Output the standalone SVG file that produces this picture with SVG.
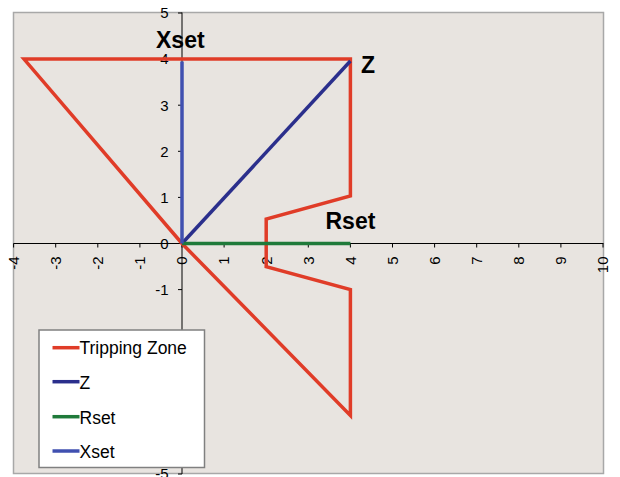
<svg xmlns="http://www.w3.org/2000/svg" width="620" height="477" viewBox="0 0 620 477">
<style>
text{font-family:"Liberation Sans",Arial,sans-serif;fill:#000}
.ax{stroke:#000;stroke-width:1;fill:none}
.tl{font-size:15px}
.big{font-size:23px;font-weight:bold}
.lg{font-size:17.5px}
.red{stroke:#E03C28;stroke-width:3.5;fill:none;stroke-linejoin:miter}
.z{stroke:#2B2F8C;stroke-width:3.5;fill:none}
.r{stroke:#1F7A3A;stroke-width:3.5;fill:none}
.x{stroke:#4050B0;stroke-width:3.5;fill:none}
</style>
<rect x="0" y="0" width="620" height="477" fill="#fff"/>
<g id="plot-area">
<rect x="13.5" y="12.5" width="590" height="461" fill="#E8E4E0" stroke="#A8A8A8" stroke-width="1.5"/>
</g>
<g id="axes">
<line class="ax" x1="13.5" y1="243.5" x2="603.5" y2="243.5"/>
<line class="ax" x1="182" y1="12.5" x2="182" y2="474"/>
<path class="ax" d="M13.6 243.5v4M55.7 243.5v4M97.8 243.5v4M139.9 243.5v4M182 243.5v4M224.1 243.5v4M266.2 243.5v4M308.3 243.5v4M350.4 243.5v4M392.5 243.5v4M434.6 243.5v4M476.7 243.5v4M518.8 243.5v4M560.9 243.5v4M603 243.5v4"/>
<path class="ax" d="M178 13h4M178 59.1h4M178 105.2h4M178 151.3h4M178 197.4h4M178 243.5h4M178 289.6h4M178 474h4"/>
<g class="tl" text-anchor="end">
<text x="168.5" y="18.3">5</text>
<text x="168.5" y="64.4">4</text>
<text x="168.5" y="110.5">3</text>
<text x="168.5" y="156.6">2</text>
<text x="168.5" y="202.7">1</text>
<text x="168.5" y="248.8">0</text>
<text x="168.5" y="294.9">-1</text>
<text x="168.5" y="479.3">-5</text>
</g>
<g class="tl" text-anchor="end">
<text transform="translate(18.9,256.5) rotate(-90)">-4</text>
<text transform="translate(61,256.5) rotate(-90)">-3</text>
<text transform="translate(103.1,256.5) rotate(-90)">-2</text>
<text transform="translate(145.2,256.5) rotate(-90)">-1</text>
<text transform="translate(187.3,256.5) rotate(-90)">0</text>
<text transform="translate(229.4,256.5) rotate(-90)">1</text>
<text transform="translate(271.5,256.5) rotate(-90)">2</text>
<text transform="translate(313.6,256.5) rotate(-90)">3</text>
<text transform="translate(355.7,256.5) rotate(-90)">4</text>
<text transform="translate(397.8,256.5) rotate(-90)">5</text>
<text transform="translate(439.9,256.5) rotate(-90)">6</text>
<text transform="translate(482,256.5) rotate(-90)">7</text>
<text transform="translate(524.1,256.5) rotate(-90)">8</text>
<text transform="translate(566.2,256.5) rotate(-90)">9</text>
<text transform="translate(608.3,256.5) rotate(-90)">10</text>
</g>
</g>
<g id="series">
<g id="tripping-zone">
<polygon class="red" points="24,59.1 350.4,59.1 350.4,196 266.2,219 266.2,266.6 350.4,289.6 350.4,415.5 182,243.5"/>
</g>
<g id="z-line"><line class="z" x1="182" y1="243.5" x2="350.4" y2="61"/></g>
<g id="rset-line"><line class="r" x1="182" y1="243.5" x2="350.4" y2="243.5"/></g>
<g id="xset-line"><line class="x" x1="182" y1="243.5" x2="182" y2="61.5"/></g>
</g>
<g id="labels">
<text class="big" x="156" y="48.3">Xset</text>
<text class="big" x="361" y="72.7">Z</text>
<text class="big" x="325.5" y="229.3">Rset</text>
</g>
<g id="legend">
<rect x="39" y="330" width="165.5" height="137.5" fill="#fff" stroke="#808080" stroke-width="1.5"/>
<line x1="52.5" y1="347.7" x2="79.5" y2="347.7" stroke="#E03C28" stroke-width="3.5"/>
<line x1="52.5" y1="381.7" x2="79.5" y2="381.7" stroke="#2B2F8C" stroke-width="3.5"/>
<line x1="52.5" y1="416.7" x2="79.5" y2="416.7" stroke="#1F7A3A" stroke-width="3.5"/>
<line x1="52.5" y1="451" x2="79.5" y2="451" stroke="#4050B0" stroke-width="3.5"/>
<text class="lg" x="79.5" y="354.3">Tripping Zone</text>
<text class="lg" x="79.5" y="389">Z</text>
<text class="lg" x="79.5" y="424">Rset</text>
<text class="lg" x="79.5" y="458.3">Xset</text>
</g>
</svg>
